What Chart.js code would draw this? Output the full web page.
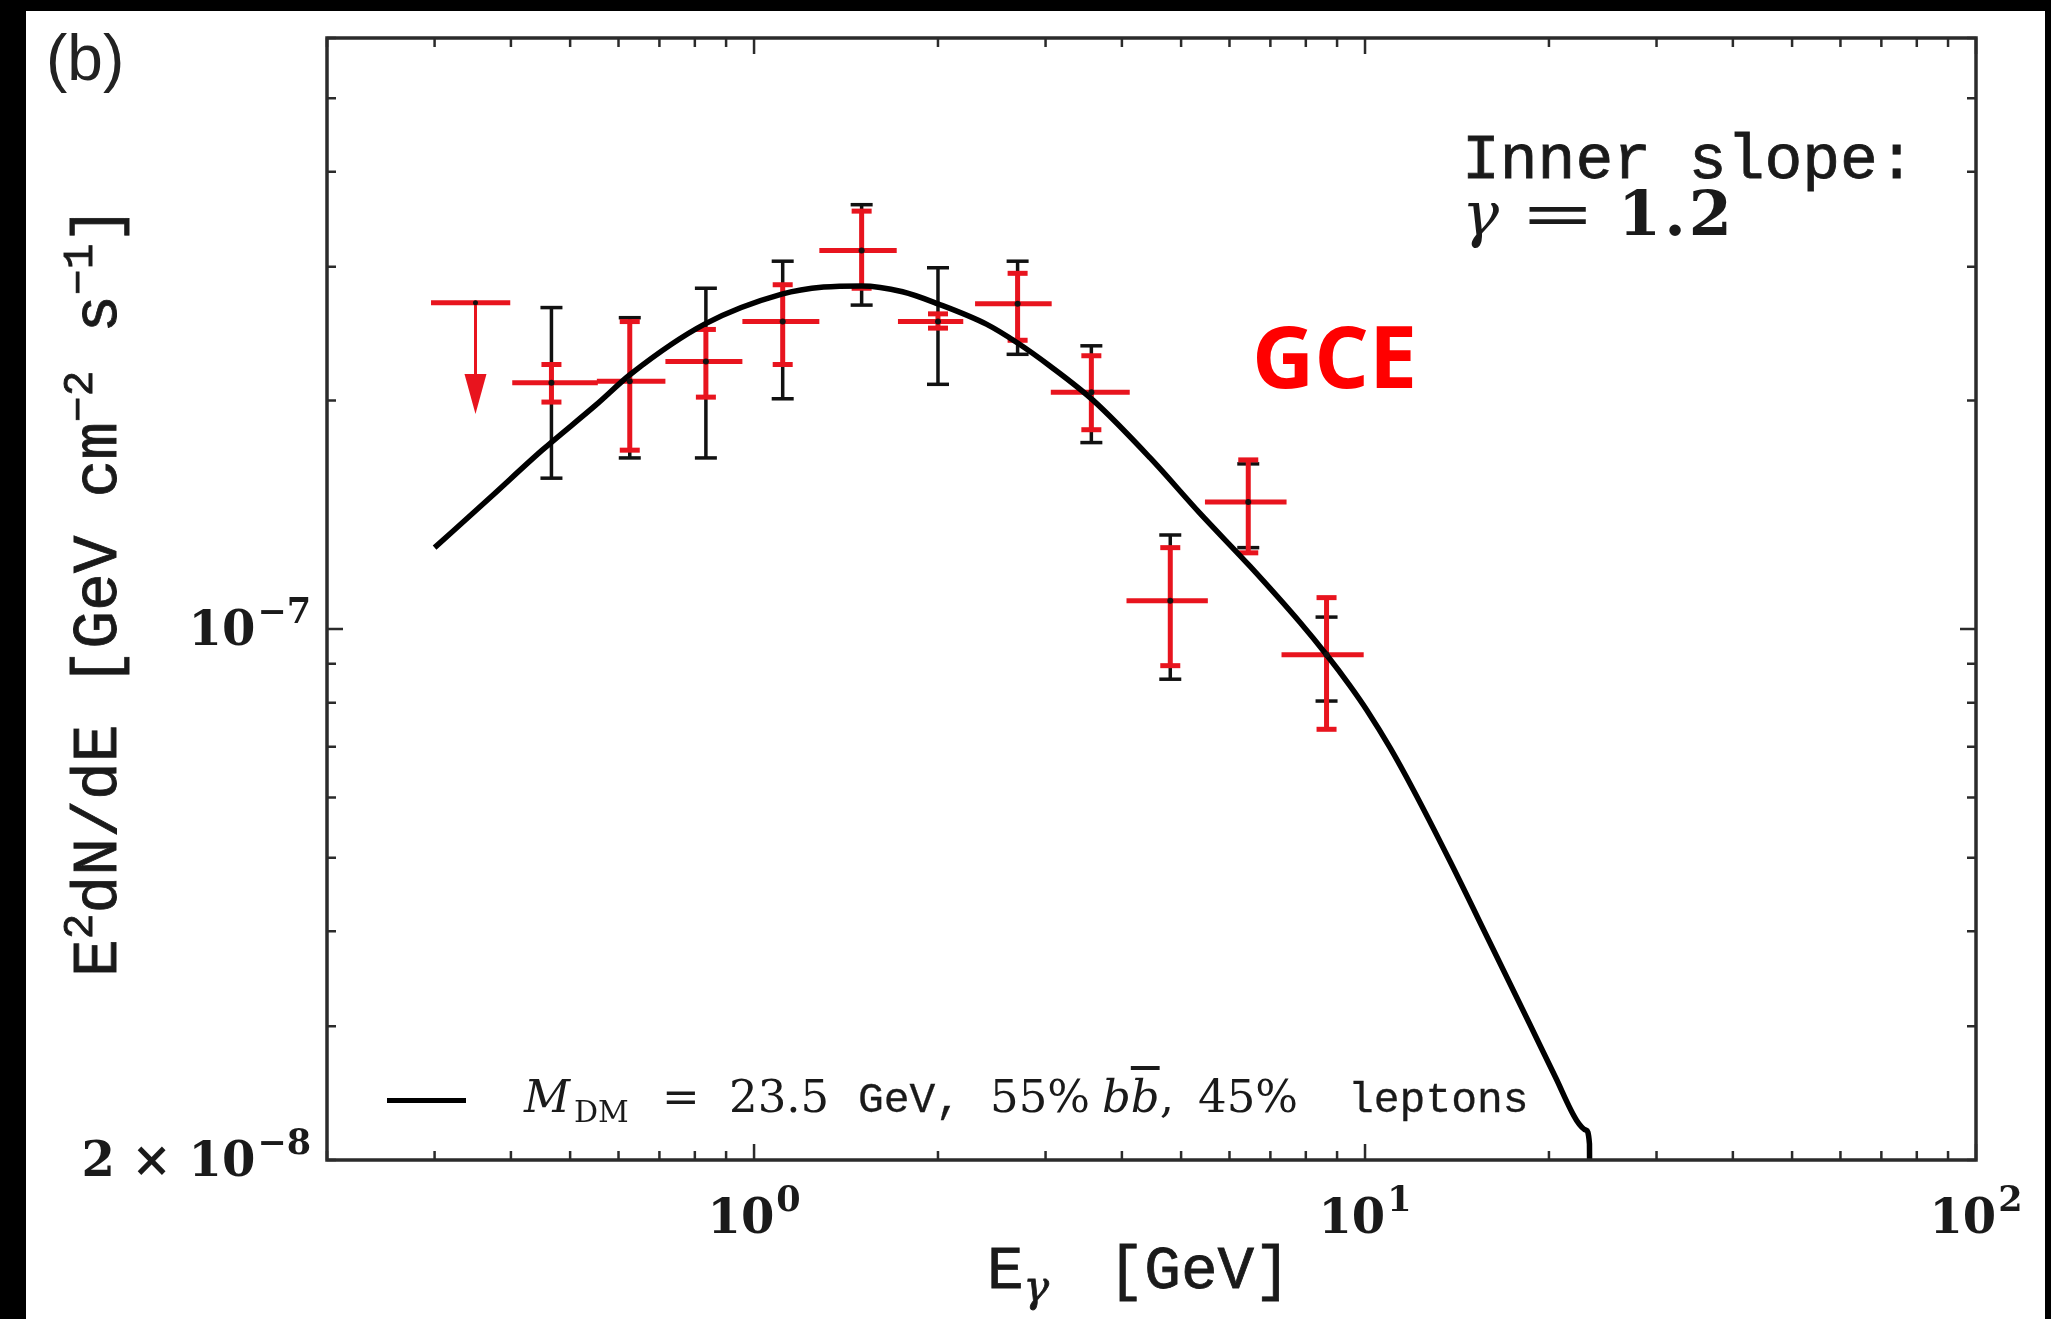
<!DOCTYPE html>
<html>
<head>
<meta charset="utf-8">
<title>Inner slope 1.2 spectrum</title>
<script src="https://cdn.jsdelivr.net/npm/chart.js@4.4.1/dist/chart.umd.min.js"></script>
<style>
    html, body { margin: 0; padding: 0; }
    body { width: 2051px; height: 1319px; background: #000; position: relative; overflow: hidden; }
    #sheet { position: absolute; left: 26px; top: 11px; width: 2019px; height: 1308px; background: #fff; }
    .note { position: absolute; white-space: pre; line-height: 1; color: #1a1a1a; }
    .note > span { display: inline-block; }
    .tt { font-family: 'Liberation Mono', 'DejaVu Sans Mono', monospace; }
    .rm { font-family: 'DejaVu Serif', serif; }
    .it { font-family: 'DejaVu Serif', serif; font-style: italic; }
    .sup { font-size: 0.68em; position: relative; top: -0.55em; }
    .sub { font-size: 0.7em; position: relative; top: 0.3em; }
    .heavy { -webkit-text-stroke: 0.8px #1a1a1a; }
    .medium { -webkit-text-stroke: 0.3px #1a1a1a; }
    #yTitle { transform-origin: 0 0; transform: rotate(-90deg); }
</style>
</head>
<body>
<div id="sheet"><canvas id="chartSpectrum"></canvas></div>

<div class="note" style="left:46px; top:26px; font: 64px 'Liberation Sans', sans-serif; line-height:1; color:#222;">(b)</div>

<div class="note tt heavy" style="left:1462px; top:130px; font-size:63px;">Inner slope:</div>
<div class="note rm" style="left:1462px; top:183px; font-size:62px;"><span class="it" style="width:58px;">γ</span><span style="width:98px;"><span style="display:inline-block; transform:scaleX(1.45); transform-origin:0 50%;">=</span></span><span style="font-weight:bold; letter-spacing:3px;">1.2</span></div>

<div class="note" style="left:1252px; top:312px; font: bold 86px 'Open Sans', sans-serif; line-height:1; color:#ff0000;">GCE</div>

<div style="position:absolute; left:387px; top:1098px; width:79px; height:5px; background:#000;"></div>
<div class="note rm" style="left:524px; top:1074px; font-size:45px;"><span class="it" style="width:50px;">M</span><span style="width:88px; font-size:30px; vertical-align:-10px;">DM</span><span style="width:67px;">=</span><span style="width:129px;">23.5</span><span class="tt medium" style="width:132px; font-size:43px;">GeV,</span><span style="width:112px;">55%</span><span style="width:96px;"><i>b</i><i style="text-decoration:overline;">b</i>,</span><span style="width:150px;">45%</span><span class="tt medium" style="font-size:43px;">leptons</span></div>

<div class="note tt heavy" style="left:987px; top:1241px; font-size:61px;">E<span class="sub it">γ</span><span style="display:inline-block; width:22px;"></span> [GeV]</div>
<div id="yTitle" class="note tt heavy" style="left:68px; top:977px; font-size:63px;">E<span class="sup">2</span>dN/dE [GeV cm<span class="sup">−2</span> s<span class="sup">−1</span>]</div>

<script>
(function () {
    // model curve, E in GeV, E^2 dN/dE in GeV cm^-2 s^-1
    const curveE = [0.30, 0.37, 0.45, 0.55, 0.63, 0.83, 1.11, 1.30, 1.50, 1.75, 2.00, 2.40, 2.70, 3.05,
        3.59, 4.45, 5.37, 6.48, 7.83, 8.65, 9.45, 10.07, 11.0, 12.0, 13.77, 16.0, 18.6, 20.5, 22.2,
        23.0, 23.3, 23.35];
    const curveFlux = [1.28e-7, 1.49e-7, 1.72e-7, 1.97e-7, 2.17e-7, 2.52e-7, 2.76e-7, 2.82e-7, 2.83e-7, 2.78e-7,
        2.68e-7, 2.52e-7, 2.38e-7, 2.22e-7, 2.00e-7, 1.68e-7, 1.42e-7, 1.21e-7, 1.02e-7, 0.925e-7,
        0.842e-7, 0.782e-7, 0.697e-7, 0.614e-7, 0.495e-7, 0.387e-7, 0.302e-7, 0.257e-7, 0.2255e-7,
        0.219e-7, 0.21e-7, 0.15e-7];

    // measured points
    const binCenter = [0.466, 0.626, 0.834, 1.114, 1.50, 2.00, 2.70, 3.565, 4.80, 6.44, 8.65];
    const binLow = [0.402, 0.553, 0.716, 0.957, 1.279, 1.72, 2.30, 3.06, 4.07, 5.47, 7.30];
    const binHigh = [0.555, 0.716, 0.957, 1.279, 1.712, 2.20, 3.07, 4.12, 5.53, 7.44, 9.95];
    const flux = [2.11e-7, 2.12e-7, 2.25e-7, 2.54e-7, 3.15e-7, 2.54e-7, 2.68e-7, 2.05e-7, 1.09e-7, 1.47e-7, 0.925e-7];
    const errBlackLo = [1.58e-7, 1.68e-7, 1.68e-7, 2.01e-7, 2.67e-7, 2.10e-7, 2.30e-7, 1.76e-7, 0.859e-7, 1.28e-7, 0.804e-7];
    const errBlackHi = [2.65e-7, 2.57e-7, 2.81e-7, 3.05e-7, 3.62e-7, 2.99e-7, 3.05e-7, 2.36e-7, 1.33e-7, 1.65e-7, 1.037e-7];
    const errRedLo = [1.99e-7, 1.72e-7, 2.02e-7, 2.23e-7, 2.81e-7, 2.49e-7, 2.40e-7, 1.83e-7, 0.895e-7, 1.26e-7, 0.738e-7];
    const errRedHi = [2.23e-7, 2.54e-7, 2.48e-7, 2.84e-7, 3.55e-7, 2.60e-7, 2.94e-7, 2.29e-7, 1.28e-7, 1.67e-7, 1.10e-7];

    // upper limit in the first bin
    const ulCenter = [0.35];
    const ulLow = [0.296];
    const ulHigh = [0.399];
    const ulFlux = [2.69e-7];
    const ulArrowTip = [1.92e-7];

    // axes
    const xMin = 0.2, xMax = 100;
    const yMin = 2e-8, yMax = 6e-7;
    const xMajorTicks = [1, 10, 100];
    const xMajorLabels = [['10', '0'], ['10', '1'], ['10', '2']];
    const yMajorTicks = [2e-8, 1e-7];
    const yMajorLabels = [['2 × 10', '−8'], ['10', '−7']];

    const colors = {
        ink: '#1a1a1a',
        frame: '#2b2b2b',
        red: '#e8141e',
        black: '#111111',
    };
    const baseFont = "bold 48px 'DejaVu Serif', serif";
    const expFont = "bold 35px 'DejaVu Serif', serif";

    function logTicks(min, max) {
        const out = [];
        for (let d = Math.floor(Math.log10(min)); d <= Math.ceil(Math.log10(max)); d++) {
            for (let m = 1; m <= 9; m++) {
                const v = m * Math.pow(10, d);
                if (v >= min * 0.999 && v <= max * 1.001) out.push(v);
            }
        }
        return out;
    }

    function findLabel(value, ticks, labels) {
        const i = ticks.findIndex(t => Math.abs(value - t) <= Math.abs(t) * 1e-6);
        return i >= 0 ? labels[i] : null;
    }

    function isDecade(v) {
        const l = Math.log10(v);
        return Math.abs(l - Math.round(l)) < 1e-6;
    }

    // "base^exp" label, anchored at x (center or right) with baseline y
    function drawPower(ctx, label, x, y, align) {
        ctx.font = baseFont;
        const wb = ctx.measureText(label[0]).width;
        ctx.font = expFont;
        const we = ctx.measureText(label[1]).width;
        const total = wb + 2 + we;
        const start = align === 'right' ? x - total : x - total / 2;
        ctx.font = baseFont;
        ctx.fillText(label[0], start, y);
        ctx.font = expFont;
        ctx.fillText(label[1], start + wb + 2, y - 22);
    }

    const errorBars = {
        id: 'errorBars',
        beforeDatasetsDraw(chart) {
            const { ctx, scales: { x, y } } = chart;
            ctx.save();
            ctx.lineCap = 'butt';

            function seg(x1, y1, x2, y2) {
                ctx.beginPath();
                ctx.moveTo(x1, y1);
                ctx.lineTo(x2, y2);
                ctx.stroke();
            }

            binCenter.forEach(function (e, i) {
                const px = x.getPixelForValue(e);
                ctx.strokeStyle = colors.black;
                ctx.lineWidth = 3.5;
                const bTop = y.getPixelForValue(errBlackHi[i]);
                const bBot = y.getPixelForValue(errBlackLo[i]);
                seg(px, bTop, px, bBot);
                seg(px - 11, bTop, px + 11, bTop);
                seg(px - 11, bBot, px + 11, bBot);

                ctx.strokeStyle = colors.red;
                ctx.lineWidth = 5;
                const py = y.getPixelForValue(flux[i]);
                seg(x.getPixelForValue(binLow[i]), py, x.getPixelForValue(binHigh[i]), py);
                const rTop = y.getPixelForValue(errRedHi[i]);
                const rBot = y.getPixelForValue(errRedLo[i]);
                seg(px, rTop, px, rBot);
                seg(px - 10, rTop, px + 10, rTop);
                seg(px - 10, rBot, px + 10, rBot);
            });

            ulCenter.forEach(function (e, i) {
                const px = x.getPixelForValue(e);
                const py = y.getPixelForValue(ulFlux[i]);
                const tip = y.getPixelForValue(ulArrowTip[i]);
                ctx.strokeStyle = colors.red;
                ctx.fillStyle = colors.red;
                ctx.lineWidth = 5;
                seg(x.getPixelForValue(ulLow[i]), py, x.getPixelForValue(ulHigh[i]), py);
                ctx.lineWidth = 3;
                seg(px, py, px, tip - 30);
                ctx.beginPath();
                ctx.moveTo(px - 11, tip - 40);
                ctx.lineTo(px + 11, tip - 40);
                ctx.lineTo(px, tip);
                ctx.closePath();
                ctx.fill();
            });
            ctx.restore();
        },
    };

    const frameTicks = {
        id: 'frameTicks',
        afterDraw(chart) {
            const { ctx, chartArea: a, scales: { x, y } } = chart;
            ctx.save();
            ctx.strokeStyle = colors.frame;
            ctx.lineWidth = 2.5;
            ctx.beginPath();
            x.ticks.forEach(function (t) {
                const px = x.getPixelForValue(t.value);
                const len = isDecade(t.value) ? 16 : 9;
                ctx.moveTo(px, a.bottom);
                ctx.lineTo(px, a.bottom - len);
                ctx.moveTo(px, a.top);
                ctx.lineTo(px, a.top + len);
            });
            y.ticks.forEach(function (t) {
                const py = y.getPixelForValue(t.value);
                const len = isDecade(t.value) ? 16 : 9;
                ctx.moveTo(a.left, py);
                ctx.lineTo(a.left + len, py);
                ctx.moveTo(a.right, py);
                ctx.lineTo(a.right - len, py);
            });
            ctx.stroke();
            ctx.lineWidth = 3.5;
            ctx.strokeRect(a.left, a.top, a.right - a.left, a.bottom - a.top);

            // tick labels with raised exponents
            ctx.fillStyle = colors.ink;
            ctx.textBaseline = 'alphabetic';
            ctx.textAlign = 'left';
            x.ticks.forEach(function (t) {
                const label = findLabel(t.value, xMajorTicks, xMajorLabels);
                if (label) drawPower(ctx, label, x.getPixelForValue(t.value), a.bottom + 73, 'center');
            });
            y.ticks.forEach(function (t) {
                const label = findLabel(t.value, yMajorTicks, yMajorLabels);
                if (label) drawPower(ctx, label, a.left - 16, y.getPixelForValue(t.value) + 16, 'right');
            });
            ctx.restore();
        },
    };

    new Chart(document.getElementById('chartSpectrum'), {
        type: 'scatter',
        data: {
            datasets: [
                {
                    label: 'points',
                    data: binCenter.map((e, i) => ({ x: e, y: flux[i] })),
                    pointRadius: 3,
                    pointBackgroundColor: colors.black,
                    pointBorderWidth: 0,
                },
                {
                    label: 'upper limit',
                    data: ulCenter.map((e, i) => ({ x: e, y: ulFlux[i] })),
                    pointRadius: 2.5,
                    pointBackgroundColor: colors.black,
                    pointBorderWidth: 0,
                },
                {
                    label: 'M_DM = 23.5 GeV, 55% bb, 45% leptons',
                    data: curveE.map((e, i) => ({ x: e, y: curveFlux[i] })),
                    showLine: true,
                    borderColor: '#000',
                    borderWidth: 5.5,
                    pointRadius: 0,
                    cubicInterpolationMode: 'monotone',
                },
            ],
        },
        options: {
            responsive: true,
            maintainAspectRatio: false,
            animation: false,
            events: [],
            layout: { padding: { top: 27, right: 69, left: 0, bottom: 0 } },
            plugins: {
                legend: { display: false },
                tooltip: { enabled: false },
            },
            scales: {
                x: {
                    type: 'logarithmic',
                    min: xMin,
                    max: xMax,
                    grid: { display: false },
                    border: { display: false },
                    ticks: { display: false },
                    afterBuildTicks(scale) {
                        scale.ticks = logTicks(xMin, xMax).map(v => ({ value: v }));
                    },
                    afterFit(scale) { scale.height = 159; },
                },
                y: {
                    type: 'logarithmic',
                    min: yMin,
                    max: yMax,
                    grid: { display: false },
                    border: { display: false },
                    ticks: { display: false },
                    afterBuildTicks(scale) {
                        scale.ticks = logTicks(yMin, yMax).map(v => ({ value: v }));
                    },
                    afterFit(scale) { scale.width = 301; },
                },
            },
        },
        plugins: [errorBars, frameTicks],
    });
})();
</script>
</body>
</html>
